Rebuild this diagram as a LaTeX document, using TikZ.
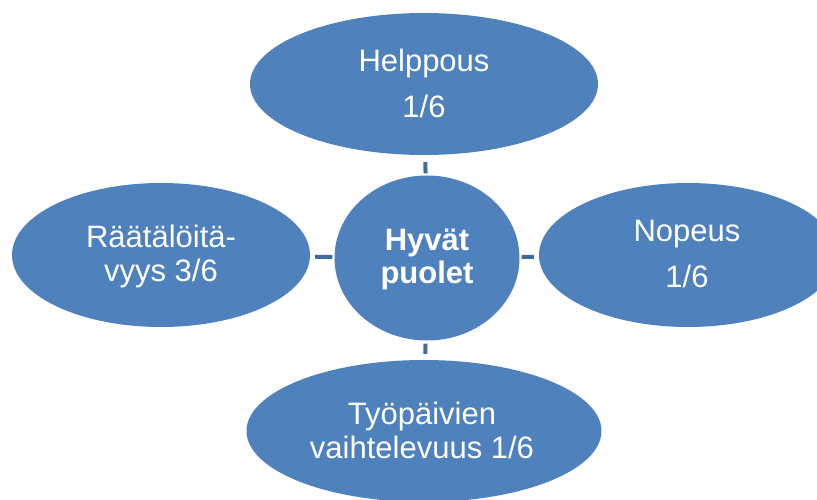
\documentclass[tikz,border=0pt]{standalone}
\usepackage{fontspec}
\setmainfont{Liberation Sans}
\usetikzlibrary{shapes.geometric}
\definecolor{accent}{HTML}{4F81BD}
\definecolor{linkblue}{HTML}{3F6A9B}
\begin{document}
\begin{tikzpicture}[x=1pt,y=-1pt,
  bubble/.style={ellipse, fill=accent, inner sep=0pt},
  caption/.style={text=white, align=center, inner sep=0pt},
  wide/.style={caption, font=\fontsize{31}{46}\selectfont},
  tight/.style={caption, font=\fontsize{31}{34}\selectfont},
  hubtext/.style={caption, font=\bfseries\fontsize{31}{33}\selectfont},
  link/.style={draw=linkblue, line width=4pt}]
\useasboundingbox (0,0) rectangle (817,500);
\clip (0,0) rectangle (817,500);

% centre and the four satellite shapes
\node[bubble, minimum width=185pt, minimum height=165pt] (hub) at (427,258) {};
\node[bubble, minimum width=348pt, minimum height=142pt] (top) at (424,84) {};
\node[bubble, minimum width=298pt, minimum height=144pt] (left) at (161,255) {};
\node[bubble, minimum width=298pt, minimum height=144pt] (right) at (688,255) {};
\node[bubble, minimum width=355pt, minimum height=142pt] (bottom) at (424,431) {};

% short connectors between the centre and each satellite
\draw[link, shorten <=2pt, shorten >=7pt] (hub) -- (top);
\draw[link, shorten <=2pt, shorten >=5pt] (hub) -- (left);
\draw[link, shorten <=2pt, shorten >=5pt] (hub) -- (right);
\draw[link, shorten <=3pt, shorten >=6pt] (hub) -- (bottom);

% labels
\node[hubtext] (hubt) at (427,259) {Hyvät\\puolet};
\node[wide] (topt) at (424,83) {Helppous\\1/6};
\node[tight] (leftt) at (161,256) {Räätälöitä-\\vyys 3/6};
\node[wide] (rightt) at (687,254) {Nopeus\\1/6};
\node[tight] (bottomt) at (422,430) {Työpäivien\\vaihtelevuus 1/6};
\end{tikzpicture}
\end{document}
